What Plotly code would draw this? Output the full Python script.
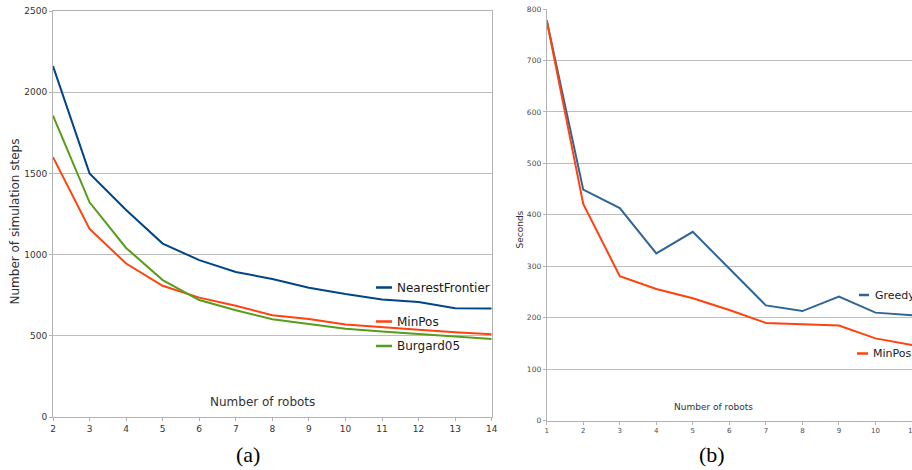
import plotly.graph_objects as go

# ---- data ----
robots_a = [2, 3, 4, 5, 6, 7, 8, 9, 10, 11, 12, 13, 14]
nearest_frontier = [2161, 1500, 1275, 1068, 966, 893, 850, 796, 757, 724, 708, 669, 668]
minpos_a = [1600, 1158, 945, 808, 735, 685, 626, 604, 569, 555, 537, 522, 510]
burgard05 = [1855, 1322, 1041, 843, 720, 657, 602, 573, 543, 527, 510, 495, 480]

robots_b = [1, 2, 3, 4, 5, 6, 7, 8, 9, 10, 11]
greedy = [778, 449, 413, 325, 367, 296, 224, 213, 241, 210, 205]
minpos_b = [778, 421, 281, 256, 238, 215, 190, 188, 185, 160, 147]

yticks_a = [0, 500, 1000, 1500, 2000, 2500]
yticks_b = [0, 100, 200, 300, 400, 500, 600, 700, 800]

W, H = 912, 470
BLUE = "#004586"
BLUE_B = "#2f6598"
RED = "#ff420e"
GREEN = "#579d1c"
GRID = "#bdbdbd"
FONT = "DejaVu Sans"


def px(x):
    return x / W


def py(y):
    return 1 - y / H


fig = go.Figure()
fig.add_trace(go.Scatter(x=robots_a, y=nearest_frontier, mode="lines",
                         line=dict(color=BLUE, width=2), xaxis="x", yaxis="y"))
fig.add_trace(go.Scatter(x=robots_a, y=minpos_a, mode="lines",
                         line=dict(color=RED, width=2), xaxis="x", yaxis="y"))
fig.add_trace(go.Scatter(x=robots_a, y=burgard05, mode="lines",
                         line=dict(color=GREEN, width=2), xaxis="x", yaxis="y"))
fig.add_trace(go.Scatter(x=robots_b, y=greedy, mode="lines",
                         line=dict(color=BLUE_B, width=2), xaxis="x2", yaxis="y2"))
fig.add_trace(go.Scatter(x=robots_b, y=minpos_b, mode="lines",
                         line=dict(color=RED, width=2), xaxis="x2", yaxis="y2"))

axis_common = dict(showgrid=True, gridcolor=GRID, gridwidth=1, showline=True,
                   linecolor="#b3b3b3", linewidth=1, ticks="outside", ticklen=3,
                   tickcolor="#b3b3b3", zeroline=False)

fig.update_layout(
    width=W, height=H,
    margin=dict(l=0, r=0, t=0, b=0, autoexpand=False),
    paper_bgcolor="white", plot_bgcolor="white",
    showlegend=False,
    font=dict(family=FONT, color="#333333"),
    xaxis=dict(axis_common, domain=[px(53), px(491.7)], range=[2, 14], dtick=1,
               showgrid=False, mirror=True, anchor="y",
               tickfont=dict(size=9, color="#333333")),
    yaxis=dict(axis_common, domain=[py(417), py(11)], range=[0, 2500],
               tickvals=yticks_a, mirror=True, anchor="x",
               tickfont=dict(size=9, color="#333333")),
    xaxis2=dict(axis_common, domain=[px(546.7), 1.0], range=[1, 11.0], dtick=1,
                showgrid=False, anchor="y2",
                tickfont=dict(size=7, color="#4a4a4a")),
    yaxis2=dict(axis_common, domain=[py(420.7), py(9)], range=[0, 800],
                tickvals=yticks_b, anchor="x2",
                tickfont=dict(size=7.5, color="#4a4a4a")),
)

ann = []


def add_text(x, y, text, size, color="#333333", angle=0, xanchor="center", family=None):
    f = dict(size=size, color=color)
    if family:
        f["family"] = family
    ann.append(dict(x=px(x), y=py(y), xref="paper", yref="paper", text=text,
                    textangle=angle, xanchor=xanchor, yanchor="middle",
                    showarrow=False, font=f))


# axis titles
add_text(262, 402, "Number of robots", 12)
add_text(14, 221.5, "Number of simulation steps", 12, angle=-90)
add_text(713, 407, "Number of robots", 9)
add_text(519.5, 230, "Seconds", 9, angle=-90)
# captions
add_text(248.5, 454, "(a)", 22, color="#000000", family="Liberation Serif")
add_text(711.5, 454, "(b)", 22, color="#000000", family="Liberation Serif")

# last tick label of panel (b), cut by the right edge as in the reference
ann.append(dict(x=robots_b[-1], y=py(430.5), xref="x2", yref="paper",
                text=str(robots_b[-1]), xanchor="center", yanchor="middle",
                showarrow=False, font=dict(size=7, color="#4a4a4a")))

shapes = []
legend_a = [("NearestFrontier", BLUE, 287.5), ("MinPos", RED, 321.5), ("Burgard05", GREEN, 346)]
for name, col, yy in legend_a:
    shapes.append(dict(type="line", xref="paper", yref="paper", x0=px(376), x1=px(392),
                       y0=py(yy), y1=py(yy), line=dict(color=col, width=2.5)))
    add_text(394.5, yy, name, 12, color="#1a1a1a", xanchor="left")

legend_b = [("Greedy", BLUE_B, 295, 859, 869, 872.5), ("MinPos", RED, 353.5, 857, 868, 871)]
for name, col, yy, x0, x1, xt in legend_b:
    shapes.append(dict(type="line", xref="paper", yref="paper", x0=px(x0), x1=px(x1),
                       y0=py(yy), y1=py(yy), line=dict(color=col, width=2.5)))
    add_text(xt, yy, name, 11, color="#1a1a1a", xanchor="left")

fig.update_layout(annotations=ann, shapes=shapes)

fig.write_html(
    "out.html",
    config={"displayModeBar": False},
    post_script="document.body.style.margin='0';document.body.style.overflow='hidden';",
)
